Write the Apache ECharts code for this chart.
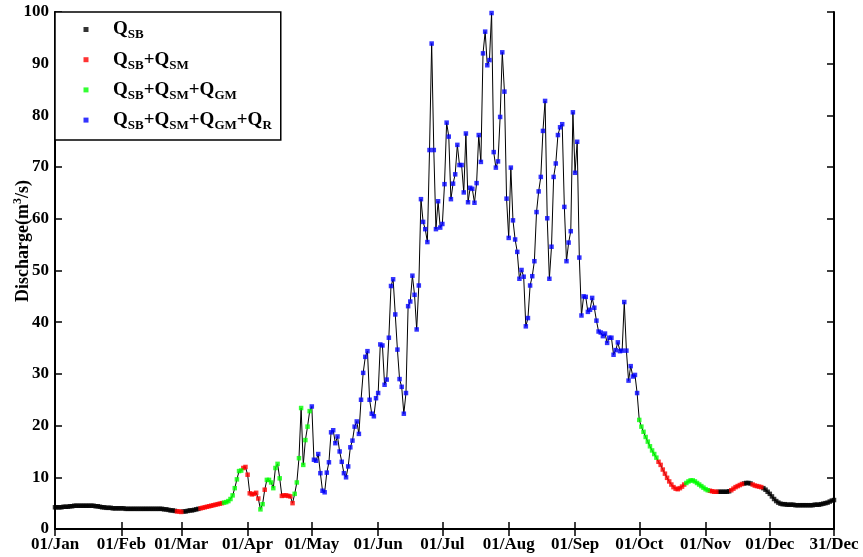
<!DOCTYPE html>
<html>
<head>
<meta charset="UTF-8">
<title>Discharge</title>
<script src="https://cdn.jsdelivr.net/npm/echarts@6/dist/echarts.min.js"></script>
<style>
  html, body { margin: 0; padding: 0; background: #fff; }
  #main { width: 863px; height: 557px; }
</style>
</head>
<body>
<div id="main"></div>
<script>
// month names / lengths (non leap year)
var monthNames = ['Jan','Feb','Mar','Apr','May','Jun','Jul','Aug','Sep','Oct','Nov','Dec'];
var monthDays = [31,28,31,30,31,30,31,31,30,31,30,31];

// daily discharge (m3/s)
var qJan = [4.2,4.2,4.2,4.2,4.3,4.3,4.3,4.4,4.4,4.5,4.5,4.5,4.5,4.5,4.5,4.5,4.5,4.5,4.5,4.4,4.4,4.3,4.2,4.2,4.1,4.1,4.1,4.0,4.0,4.0,4.0];
var qFeb = [4.0,4.0,3.9,3.9,3.9,3.9,3.9,3.9,3.9,3.9,3.9,3.9,3.9,3.9,3.9,3.9,3.9,3.9,3.9,3.9,3.8,3.8,3.7,3.6,3.6,3.5,3.4,3.4];
var qMar = [3.3,3.4,3.4,3.5,3.6,3.6,3.7,3.8,3.9,4.0,4.1,4.2,4.3,4.4,4.5,4.6,4.7,4.8,4.9,5.0,5.1,5.2,5.4,5.8,6.5,7.9,9.6,11.2,11.3,11.8,12.0];
var qApr = [10.5,6.9,6.7,6.8,7.0,5.9,3.8,4.8,7.6,9.5,9.5,9.0,7.9,11.8,12.6,9.8,6.4,6.5,6.5,6.4,6.3,5.0,6.8,9.0,13.7,23.4,12.4,17.2,19.8,22.8];
var qMay = [23.7,13.4,13.2,14.5,10.8,7.4,7.1,10.9,12.9,18.7,19.1,16.6,17.9,15.0,13.0,10.8,10.0,12.1,15.8,17.1,19.8,20.8,18.4,25.0,30.2,33.3,34.4,25.0,22.3,21.8,25.3];
var qJun = [26.3,35.7,35.5,27.9,28.9,37.0,47.0,48.3,41.5,34.7,29.0,27.5,22.3,26.3,43.1,44.0,49.0,45.3,38.6,47.1,63.8,59.4,58.0,55.5,73.3,93.9,73.3,58.0,63.4,58.3];
var qJul = [59.0,66.7,78.6,75.9,63.8,66.8,68.6,74.3,70.4,70.4,65.1,76.5,63.2,66.0,65.8,63.1,66.9,76.2,71.0,92.0,96.2,89.7,90.7,99.8,72.9,69.9,71.1,79.7,92.2,84.6,63.9];
var qAug = [56.3,69.9,59.7,56.0,53.6,48.4,50.1,48.8,39.2,40.8,47.1,48.9,51.8,61.3,65.3,68.1,77.0,82.8,60.1,48.4,54.6,68.1,70.7,76.2,77.7,78.3,62.3,51.8,55.4,57.6,80.6];
var qSep = [68.9,74.9,52.5,41.3,45.0,44.9,42.0,42.4,44.7,42.8,40.3,38.2,38.0,37.3,37.8,36.0,37.0,37.0,33.7,34.6,36.1,34.4,34.5,43.9,34.5,28.7,31.5,29.5,29.8,26.3];
var qOct = [21.1,19.8,18.8,17.8,16.9,16.0,15.2,14.5,13.8,13.0,12.4,11.5,10.7,9.9,9.2,8.6,8.1,7.8,7.7,7.9,8.2,8.6,8.9,9.2,9.4,9.4,9.2,8.9,8.6,8.3,8.0];
var qNov = [7.7,7.5,7.4,7.3,7.2,7.2,7.2,7.2,7.2,7.2,7.2,7.3,7.5,7.8,8.1,8.3,8.5,8.7,8.8,8.9,8.9,8.8,8.6,8.4,8.3,8.2,8.1,7.9,7.6,7.2];
var qDec = [6.8,6.3,5.8,5.4,5.1,4.9,4.8,4.8,4.7,4.7,4.7,4.7,4.6,4.6,4.6,4.6,4.6,4.6,4.6,4.6,4.6,4.7,4.7,4.7,4.8,4.9,5.0,5.1,5.3,5.5,5.6];

// flow components present: [first day, last day, component index]
var sourceRuns = [
  [0,56,0],[57,59,1],[60,67,0],[68,78,1],[79,87,2],[88,95,1],[96,97,2],[98,98,1],
  [99,105,2],[106,111,1],[112,119,2],[120,272,3],[273,281,2],[282,294,1],[295,305,2],
  [306,309,1],[310,315,0],[316,321,1],[322,325,0],[326,330,1],[331,364,0]
];
var seriesNames = ['QSB','QSB+QSM','QSB+QSM+QGM','QSB+QSM+QGM+QR'];
var seriesColors = ['#000000','#ff0000','#00ff00','#0000ff'];

var discharge = [].concat(qJan,qFeb,qMar,qApr,qMay,qJun,qJul,qAug,qSep,qOct,qNov,qDec);

// day labels dd/Mon
var days = [];
for (var m = 0; m < 12; m++) {
  for (var d = 1; d <= monthDays[m]; d++) {
    days.push((d < 10 ? '0' + d : '' + d) + '/' + monthNames[m]);
  }
}

function showDay(index, value) {
  return value.indexOf('01/') === 0 || index === days.length - 1;
}

// split points by component
var groups = [[],[],[],[]];
sourceRuns.forEach(function (r) {
  for (var i = r[0]; i <= r[1]; i++) groups[r[2]].push([i, discharge[i]]);
});

// Q with subscripts, e.g. QSB+QSM
function legendText(name) {
  return '{sp|}' + name.split('+').map(function (p) {
    return '{q|Q}{s|' + p.slice(1) + '}';
  }).join('{q|+}');
}

var serif = 'Liberation Serif';
var myChart = echarts.init(document.getElementById('main'));

var series = [{
  name: 'flow',
  type: 'line',
  data: discharge,
  symbol: 'none',
  lineStyle: { color: '#000', width: 1 },
  silent: true,
  z: 1
}];
for (var k = 0; k < 4; k++) {
  series.push({
    name: seriesNames[k],
    type: 'scatter',
    data: groups[k],
    symbol: 'rect',
    symbolSize: 4.5,
    itemStyle: { color: seriesColors[k] },
    z: 3
  });
}

var option = {
  animation: false,
  backgroundColor: '#fff',
  grid: { left: 55, right: 29, top: 12, bottom: 28 },
  legend: {
    data: seriesNames,
    orient: 'vertical',
    left: 55, top: 12,
    icon: 'rect',
    itemWidth: 5, itemHeight: 5,
    itemGap: 8.7,
    padding: [8, 9, 8, 28.5],
    backgroundColor: '#fff',
    borderColor: '#000', borderWidth: 1.5,
    formatter: legendText,
    textStyle: {
      color: '#000',
      rich: {
        sp: { width: 19.5 },
        q: { fontFamily: serif, fontWeight: 'bold', fontSize: 19, lineHeight: 24, color: '#000' },
        s: { fontFamily: serif, fontWeight: 'bold', fontSize: 13, lineHeight: 13, verticalAlign: 'bottom', color: '#000' }
      }
    }
  },
  xAxis: [{
    type: 'category',
    data: days,
    boundaryGap: false,
    axisLine: { lineStyle: { color: '#000', width: 2 } },
    axisTick: { inside: true, length: 7, interval: showDay, lineStyle: { color: '#000', width: 1.5 } },
    axisLabel: { interval: showDay, margin: 7, color: '#000', fontFamily: serif, fontWeight: 'bold', fontSize: 17 },
    splitLine: { show: false }
  }, {
    type: 'category',
    data: days,
    position: 'top',
    boundaryGap: false,
    axisLine: { lineStyle: { color: '#000', width: 2 } },
    axisTick: { inside: true, length: 7, interval: showDay, lineStyle: { color: '#000', width: 1.5 } },
    axisLabel: { show: false },
    splitLine: { show: false }
  }],
  yAxis: [{
    type: 'value',
    min: 0, max: 100, interval: 10,
    axisLine: { show: true, lineStyle: { color: '#000', width: 2 } },
    axisTick: { show: true, inside: true, length: 7, lineStyle: { color: '#000', width: 1.5 } },
    axisLabel: { margin: 6, color: '#000', fontFamily: serif, fontWeight: 'bold', fontSize: 17 },
    splitLine: { show: false }
  }, {
    type: 'value',
    position: 'right',
    min: 0, max: 100, interval: 10,
    axisLine: { show: true, lineStyle: { color: '#000', width: 2 } },
    axisTick: { show: true, inside: true, length: 7, lineStyle: { color: '#000', width: 1.5 } },
    axisLabel: { show: false },
    splitLine: { show: false }
  }],
  graphic: [{
    type: 'text',
    x: 23, y: 241,
    rotation: Math.PI / 2,
    style: {
      text: '{a|Discharge(m}{p|3}{a|/s)}',
      align: 'center',
      verticalAlign: 'middle',
      rich: {
        a: { fontFamily: serif, fontWeight: 'bold', fontSize: 18, lineHeight: 22, fill: '#000' },
        p: { fontFamily: serif, fontWeight: 'bold', fontSize: 12, lineHeight: 12, verticalAlign: 'top', fill: '#000' }
      }
    }
  }],
  series: series
};
myChart.setOption(option);
</script>
</body>
</html>
